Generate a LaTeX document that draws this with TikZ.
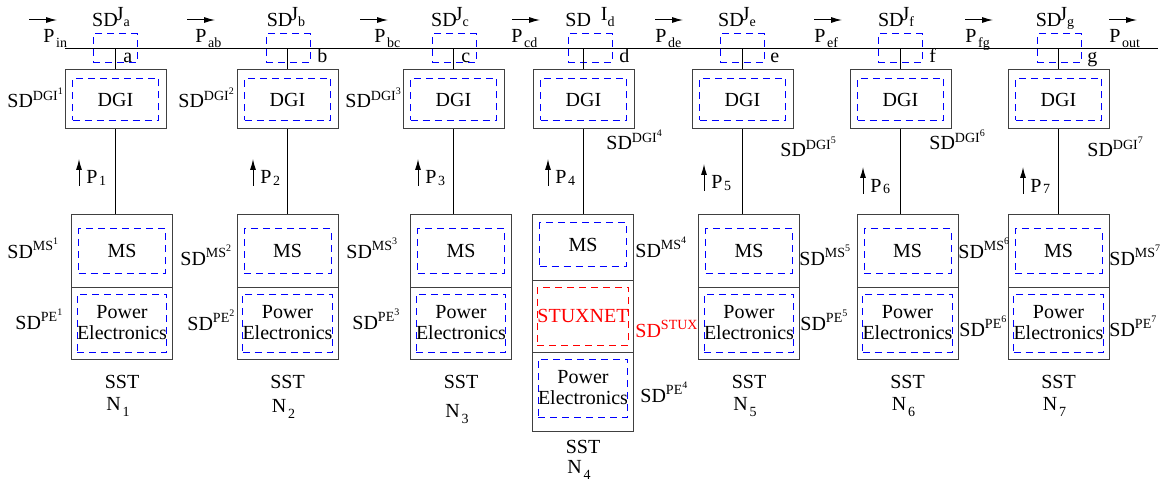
\documentclass[tikz,border=0pt]{standalone}
\usepackage{fontspec}
\setmainfont{Liberation Serif}
\usepackage{xcolor}
\usetikzlibrary{positioning,arrows.meta}

\tikzset{
  unitbox/.style={draw=black!75, line width=0.5pt, minimum width=50.5pt, inner sep=0pt},
  sdbox/.style={draw=blue, dash pattern=on 3.5pt off 2.5pt, line width=0.5pt,
    inner sep=0pt, align=center},
  wire/.style={line width=0.5pt},
  flow/.style={-{Latex[length=5.5pt,width=3pt]}, line width=0.5pt},
  lbl/.style={inner sep=0pt, anchor=base west},
  clbl/.style={inner sep=0pt, anchor=base},
}
\newcommand{\lowsub}[2][2.5pt]{\kern0.8pt\raisebox{-#1}{\scriptsize #2}}
\newcommand{\sdsup}[2]{SD\textsuperscript{#1\textsuperscript{#2}}}

\begin{document}
\begin{tikzpicture}[x=0.5pt, y=-0.5pt, font=\fontsize{10}{10.5}\selectfont]
  \useasboundingbox (0,0) rectangle (1174,481);

  % main bus
  \coordinate (busW) at (65,49);
  \coordinate (busE) at (1158,49);
  \draw[wire] (busW) -- (busE);

  % power flow along the bus
  \foreach \s/\px/\ax in {in/43/29, ab/195/187, bc/374/360, cd/511/512,
                          de/655/655, ef/814/814, fg/965/965, out/1109/1109}{
    \node[lbl] (p\s) at (\px,43) {P\lowsub{\s}};
    \draw[flow] (\ax,20) -- ++(28,0);
  }

  % junctions and DGI boxes
  \foreach \k/\l/\jx/\jb/\lx in {1/a/115/115/123, 2/b/287/288/317, 3/c/453/454/461,
                                 4/d/583/590/619, 5/e/742/742/770, 6/f/900/900/929,
                                 7/g/1058/1059/1087}{
    \coordinate (j\k) at (\jx,49);
    \node[sdbox, minimum width=22pt, minimum height=14.5pt] (jsd\k) at (\jb,48.5) {};
    \node[lbl] (jl\k) at (\lx,63) {\l};
    \node[unitbox, minimum height=29.5pt] (dgi\k) at (\jx+0.5,99.5) {};
    \node[sdbox, minimum width=43pt, minimum height=21pt] (dgisd\k) at (dgi\k) {DGI};
    \draw[wire] (j\k) -- (j\k |- dgi\k.north);
  }

  % junction security labels
  \foreach \k/\l/\cx in {1/a/111, 2/b/286, 3/c/450, 5/e/737, 6/f/896, 7/g/1055}{
    \node[clbl] (jlab\k) at (\cx,27) {SD\kern-1pt\raisebox{3pt}{J}{\scriptsize\l}};
  }
  \node[clbl] (jlab4) at (590,27) {SD\kern5pt\raisebox{3pt}{I}{\scriptsize d}};

  % SST nodes: MS over power electronics
  \foreach \k/\sx/\nb in {1/122/410, 2/287.5/412, 3/461/417, 5/749/410,
                          6/907.5/410, 7/1058.5/410}{
    \node[unitbox, minimum height=36pt] (ms\k) at (\sx,251) {};
    \node[sdbox, minimum width=43.5pt, minimum height=22pt] (mssd\k) at (ms\k) {MS};
    \node[unitbox, minimum height=36pt] (pe\k) at (\sx,323) {};
    \node[sdbox, minimum width=43.5pt, minimum height=29pt] (pesd\k) at (pe\k) {Power\\Electronics};
    \node[clbl] (sst\k) at (\sx,388) {SST};
    \node[clbl] (n\k) at (\sx-4,\nb) {N\lowsub[3pt]{\k}};
    \draw[wire] (j\k |- dgi\k.south) -- (j\k |- ms\k.north);
  }

  % SST N4 with the STUXNET layer
  \node[unitbox, minimum height=32.5pt] (ms4) at (583,247.5) {};
  \node[sdbox, minimum width=43.5pt, minimum height=21.5pt] (mssd4) at (583,244.5) {MS};
  \node[unitbox, minimum height=36pt] (stux4) at (583,316) {};
  \node[sdbox, draw=red, text=red, minimum width=43.5pt, minimum height=29pt] (stuxsd4) at (stux4) {STUXNET};
  \node[unitbox, minimum height=39.5pt] (pe4) at (583,391.5) {};
  \node[sdbox, minimum width=43.5pt, minimum height=29pt] (pesd4) at (583,388) {Power\\Electronics};
  \node[clbl] (sst4) at (583,453) {SST};
  \node[clbl] (n4) at (579,473) {N\lowsub[3pt]{4}};
  \draw[wire] (j4 |- dgi4.south) -- (j4 |- ms4.north);

  % security domain labels
  \foreach \k/\dx/\dy/\mx/\my/\ex/\ey in {1/7/108/7/258/15/329, 2/178/108/180/265/187/330,
      3/345/108/346/258/352/329, 4/606/150/635/257/640/402, 5/780/157/799/265/800/330,
      6/929/150/958/258/959/336, 7/1087/157/1109/265/1109/336}{
    \node[lbl] (sddgi\k) at (\dx,\dy) {\sdsup{DGI}{\k}};
    \node[lbl] (sdms\k) at (\mx,\my) {\sdsup{MS}{\k}};
    \node[lbl] (sdpe\k) at (\ex,\ey) {\sdsup{PE}{\k}};
  }
  \node[lbl, text=red] (sdstux) at (635,337) {SD\textsuperscript{STUX}};

  % injected power of each SST
  \foreach \k/\px/\pb in {1/86/184, 2/260/184, 3/425/184, 4/555/184,
                          5/711/189, 6/870/192, 7/1030/192}{
    \node[lbl] (pk\k) at (\px,\pb) {P\lowsub[1pt]{\k}};
    \draw[flow] (\px-7,\pb+2) -- (\px-7,\pb-25);
  }
\end{tikzpicture}
\end{document}
